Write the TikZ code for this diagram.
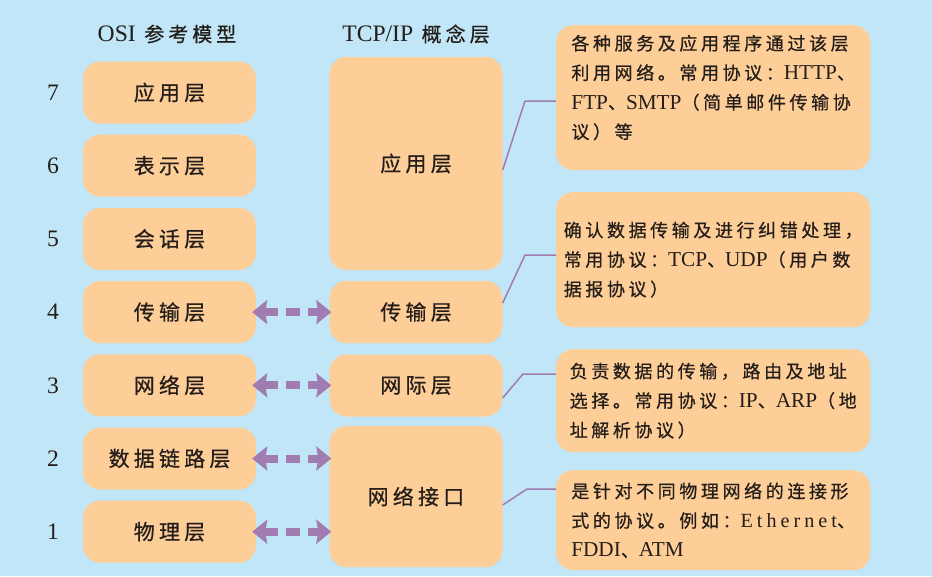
\documentclass[tikz,border=0pt]{standalone}
\usepackage{fontspec}
\usepackage{xcolor}
\usepackage{tikz}
\usetikzlibrary{arrows.meta}
\setmainfont{Noto Sans CJK SC}[LetterSpace=20, FakeBold=0.6]
\newfontfamily\en{Liberation Serif}[Scale=1.18]
\newfontfamily\enwide{Liberation Serif}[Scale=1.12, LetterSpace=20]
\definecolor{skyblue}{RGB}{192, 230, 247}
\definecolor{softpeach}{RGB}{254, 206, 152}
\definecolor{mutedpurple}{RGB}{160, 124, 176}
\definecolor{inkgray}{RGB}{35, 30, 25}

\begin{document}
\begin{tikzpicture}[x=1pt, y=-1pt,
		layerbox/.style={fill=softpeach, rounded corners=17pt, minimum width=173pt, minimum height=62pt, inner sep=0pt, text=inkgray, font=\fontsize{21}{24}\selectfont},
		notebox/.style={fill=softpeach, rounded corners=17pt, minimum width=314pt, anchor=north west, align=left, inner sep=0pt, text=inkgray, font=\fontsize{18}{29.5}\selectfont},
		headline/.style={text=inkgray, font=\fontsize{20}{24}\selectfont},
		pairarrow/.style={draw=mutedpurple, line width=8pt, dash pattern=on 14pt off 8pt, {Stealth[length=15pt, width=24pt, inset=2pt]}-{Stealth[length=15pt, width=24pt, inset=2pt]}, shorten <=-4pt, shorten >=-2pt},
		link/.style={draw=mutedpurple, line width=1.5pt}]
			\fill[skyblue] (0,0) rectangle (932,576);
			\useasboundingbox (0,0) rectangle (932,576);
			% column titles
			\node[headline] (osititle) at (167,34) {{\en OSI} 参考模型};
			\node[headline] (tcptitle) at (416,34) {{\en TCP/IP} 概念层};
			% OSI layers with their numbers
			\foreach \lvl/\lbl in {7/应用层, 6/表示层, 5/会话层, 4/传输层, 3/网络层, 2/数据链路层, 1/物理层} {
				\node[layerbox] (osi\lvl) at (169.5,{92.5+73.2*(7-\lvl)}) {\lbl};
				\node[headline] (num\lvl) at (53,{92.5+73.2*(7-\lvl)}) {\en\lvl};
			}
			% TCP/IP layers
			\node[layerbox, minimum height=213pt] (tapp) at (416,163.5) {应用层};
			\node[layerbox] (ttrans) at (416,312) {传输层};
			\node[layerbox] (tinet) at (416,385.5) {网际层};
			\node[layerbox, minimum height=141pt] (tlink) at (416,496.5) {网络接口};
			% correspondences
			\draw[pairarrow] (osi4.east) -- (osi4.east -| ttrans.west);
			\draw[pairarrow] (osi3.east) -- (osi3.east -| tinet.west);
			\draw[pairarrow] (osi2.east) -- (osi2.east -| tlink.west);
			\draw[pairarrow] (osi1.east) -- (osi1.east -| tlink.west);
			% notes
			\node[notebox, minimum height=145pt, text depth=22pt] (noteA) at (556,25) {各种服务及应用程序通过该层\\利用网络。常用协议：{\en HTTP}、\\{\en FTP}、{\en SMTP}（简单邮件传输协\\议）等};
			\node[notebox, minimum height=135pt] (noteB) at (556,192) {确认数据传输及进行纠错处理，\\常用协议：{\en TCP}、{\en UDP}（用户数\\据报协议）};
			\node[notebox, minimum height=103pt] (noteC) at (556,349) {负责数据的传输，路由及地址\\选择。常用协议：{\en IP}、{\en ARP}（地\\址解析协议）};
			\node[notebox, minimum height=100pt] (noteD) at (556,470) {是针对不同物理网络的连接形\\式的协议。例如：{\enwide Ethernet}、\\{\en FDDI}、{\en ATM}};
			\coordinate (bendA) at (525,101);
			\coordinate (bendB) at (525,255);
			\coordinate (bendC) at (523,374);
			\coordinate (bendD) at (527,489);
			\draw[link] ([yshift=-6.5pt]tapp.east) -- (bendA) -- (bendA -| noteA.west);
			\draw[link] ([yshift=9pt]ttrans.east) -- (bendB) -- (bendB -| noteB.west);
			\draw[link] ([yshift=-12.5pt]tinet.east) -- (bendC) -- (bendC -| noteC.west);
			\draw[link] ([yshift=-8.5pt]tlink.east) -- (bendD) -- (bendD -| noteD.west);
		\end{tikzpicture}
\end{document}
